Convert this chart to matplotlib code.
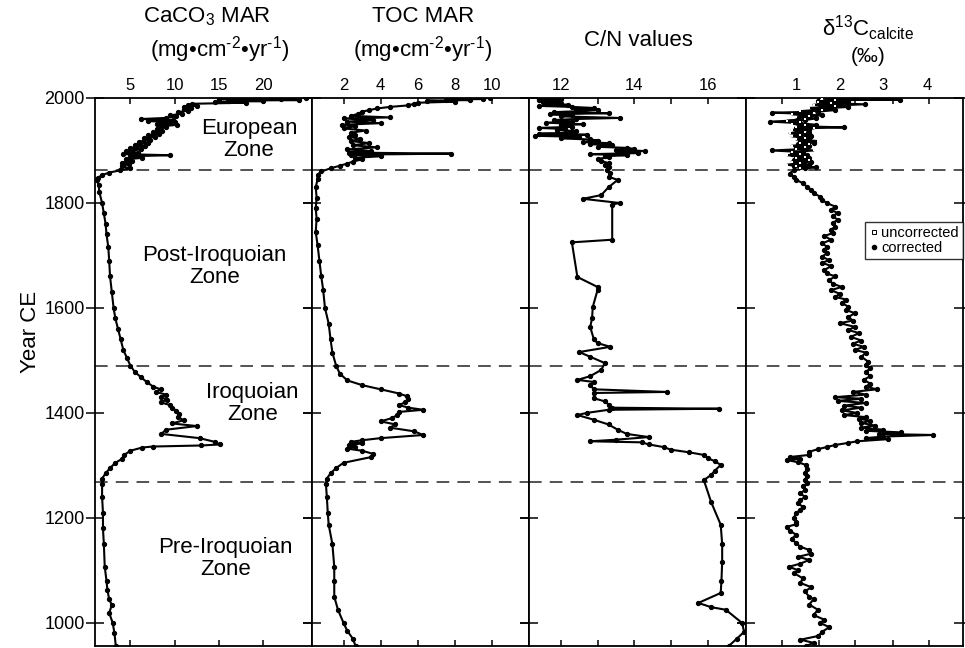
import matplotlib.pyplot as plt
from matplotlib.lines import Line2D

plt.rcParams['font.family'] = ['Liberation Sans', 'DejaVu Sans']
plt.rcParams['mathtext.fontset'] = 'custom'
plt.rcParams['mathtext.rm'] = 'Liberation Sans'
plt.rcParams['mathtext.it'] = 'Liberation Sans:italic'

# CaCO3 mass accumulation rate (mg cm-2 yr-1)
ca_year = [2000, 1999, 1998, 1997, 1996, 1995, 1994, 1993, 1991, 1989, 1987, 1985,
           1983, 1981, 1979, 1976, 1973, 1970, 1967, 1965, 1962, 1960, 1958, 1956,
           1954, 1951, 1949, 1946, 1944, 1941, 1938, 1935, 1932, 1929, 1926, 1923,
           1920, 1917, 1914, 1911, 1908, 1905, 1902, 1899, 1896, 1893, 1891, 1889,
           1886, 1883, 1880, 1877, 1874, 1870, 1866, 1862, 1858, 1853, 1848, 1843,
           1835, 1820, 1800, 1780, 1760, 1740, 1716, 1690, 1660, 1630, 1600, 1580,
           1560, 1540, 1520, 1505, 1490, 1478, 1468, 1458, 1450, 1445, 1440, 1435,
           1430, 1425, 1420, 1415, 1410, 1404, 1398, 1392, 1386, 1380, 1375, 1368,
           1360, 1352, 1345, 1340, 1338, 1336, 1334, 1328, 1320, 1312, 1305, 1295,
           1285, 1275, 1265, 1240, 1210, 1180, 1150, 1107, 1080, 1063, 1045, 1034,
           1019, 1000, 980, 956]
ca_val = [24.8, 15.0, 22.0, 17.0, 24.0, 16.0, 20.0, 14.5, 18.0, 12.0, 11.5, 12.5,
          11.0, 11.8, 11.0, 11.5, 10.4, 10.8, 9.5, 10.2, 9.0, 6.2, 9.8, 7.0,
          10.0, 8.0, 10.3, 8.5, 9.0, 8.0, 8.6, 7.6, 8.2, 7.0, 7.8, 6.5,
          7.2, 6.0, 7.0, 5.5, 6.6, 5.0, 6.2, 4.5, 5.8, 4.2, 9.5, 5.0,
          6.3, 4.5, 5.2, 4.0, 4.8, 4.0, 5.0, 3.8, 2.6, 1.8, 1.3, 1.2,
          1.4, 1.5, 1.8, 2.0, 2.2, 2.3, 2.5, 2.6, 2.7, 2.9, 3.1, 3.3,
          3.6, 3.9, 4.2, 4.6, 5.0, 5.5, 6.2, 6.9, 7.6, 8.4, 7.9, 9.0,
          8.5, 9.1, 8.4, 9.5, 9.7, 10.2, 10.5, 10.4, 11.0, 9.7, 12.5, 9.0,
          8.5, 12.8, 14.5, 15.1, 13.0, 7.5, 6.3, 5.0, 4.3, 4.0, 3.3, 2.7,
          2.2, 1.8, 1.8, 1.8, 1.9, 1.9, 2.0, 2.1, 2.3, 2.4, 2.6, 2.9,
          2.6, 3.0, 3.2, 3.35]

# TOC mass accumulation rate (mg cm-2 yr-1)
toc_year = [2000, 1999, 1998, 1997, 1996, 1995, 1993, 1991, 1989, 1986, 1983, 1980,
            1977, 1974, 1970, 1966, 1963, 1961, 1958, 1955, 1952, 1949, 1946, 1942,
            1938, 1934, 1930, 1926, 1922, 1918, 1914, 1910, 1906, 1902, 1899, 1896,
            1894, 1892, 1889, 1886, 1883, 1879, 1875, 1871, 1866, 1860, 1854, 1845,
            1830, 1810, 1790, 1770, 1745, 1720, 1690, 1660, 1635, 1600, 1570, 1540,
            1515, 1490, 1475, 1462, 1453, 1445, 1437, 1432, 1426, 1420, 1415, 1410,
            1406, 1402, 1396, 1390, 1384, 1378, 1372, 1365, 1358, 1352, 1348, 1345,
            1342, 1339, 1336, 1332, 1328, 1322, 1316, 1305, 1295, 1285, 1275, 1265,
            1240, 1210, 1187, 1150, 1107, 1080, 1050, 1025, 1000, 985, 970, 956]
toc_val = [9.9, 8.0, 9.5, 7.5, 8.8, 6.5, 8.0, 6.0, 5.8, 5.5, 4.5, 3.8,
           3.4, 3.0, 2.8, 2.4, 4.5, 2.0, 3.6, 2.2, 4.0, 1.9, 2.6, 2.0,
           3.2, 2.4, 2.6, 2.3, 2.9, 2.4, 3.4, 2.5, 3.8, 2.2, 3.5, 2.3,
           7.8, 2.4, 4.0, 2.6, 3.0, 2.5, 2.2, 1.8, 1.3, 0.8, 0.6, 0.6,
           0.5, 0.55, 0.5, 0.55, 0.5, 0.6, 0.7, 0.8, 0.9, 1.0, 1.2, 1.3,
           1.4, 1.6, 1.8, 2.2, 3.0, 4.0, 5.0, 5.4, 5.5, 5.3, 5.0, 5.5,
           6.3, 5.0, 4.9, 4.6, 4.0, 4.8, 4.5, 5.8, 6.3, 4.0, 3.0, 2.4,
           3.0, 2.3, 2.6, 2.2, 3.0, 3.6, 3.5, 2.0, 1.6, 1.3, 1.1, 1.05,
           1.1, 1.15, 1.2, 1.4, 1.5, 1.5, 1.5, 1.7, 2.0, 2.2, 2.5, 2.65]

# C/N ratio
cn_year = [2000, 1999, 1998, 1997, 1996, 1995, 1993, 1991, 1989, 1987, 1985, 1983,
           1981, 1979, 1977, 1975, 1973, 1971, 1969, 1967, 1965, 1962, 1960, 1958,
           1955, 1953, 1950, 1948, 1945, 1943, 1941, 1939, 1937, 1934, 1932, 1930,
           1928, 1926, 1923, 1921, 1919, 1916, 1914, 1912, 1910, 1907, 1905, 1903,
           1901, 1899, 1897, 1895, 1893, 1891, 1889, 1887, 1884, 1880, 1876, 1872,
           1868, 1863, 1857, 1850, 1844, 1830, 1815, 1808, 1800, 1797, 1730, 1725,
           1659, 1640, 1634, 1602, 1580, 1564, 1540, 1533, 1526, 1516, 1507, 1495,
           1482, 1470, 1463, 1459, 1453, 1445, 1440, 1438, 1428, 1422, 1416, 1410,
           1408, 1406, 1400, 1396, 1387, 1378, 1368, 1360, 1354, 1349, 1346, 1344,
           1340, 1335, 1330, 1325, 1320, 1314, 1308, 1301, 1290, 1282, 1272, 1230,
           1187, 1150, 1116, 1080, 1057, 1038, 1030, 1025, 1000, 983, 970, 956]
cn_val = [11.5, 12.0, 11.4, 11.9, 11.4, 11.9, 11.5, 12.0, 11.6, 12.2, 11.4, 12.3,
          12.9, 12.4, 13.0, 12.5, 11.8, 13.3, 11.7, 12.3, 12.0, 13.6, 12.4, 11.8,
          12.3, 11.6, 12.6, 12.0, 12.3, 11.4, 12.1, 11.9, 12.4, 12.3, 11.4, 12.7,
          11.3, 12.5, 12.0, 12.8, 13.0, 12.6, 13.3, 12.8, 13.4, 13.0, 13.8, 14.0,
          13.5, 14.3, 13.6, 14.1, 12.8, 13.8, 13.2, 13.3, 13.0, 13.1, 13.3, 13.2,
          13.3, 13.25, 13.35, 13.3, 13.55, 13.3, 13.1, 12.6, 13.6, 13.4, 13.4, 12.3,
          12.45, 13.0, 13.0, 12.87, 12.85, 12.8, 12.9, 13.0, 13.35, 12.5, 12.8, 13.2,
          13.1, 12.8, 12.45, 12.9, 12.8, 12.9, 14.9, 12.9, 12.9, 13.2, 13.3, 13.4,
          16.3, 13.3, 12.7, 12.45, 12.9, 13.3, 13.55, 13.8, 14.4, 13.5, 12.8, 14.2,
          14.4, 14.8, 15.0, 15.5, 15.9, 16.0, 16.2, 16.36, 16.2, 16.1, 15.9, 16.1,
          16.36, 16.4, 16.4, 16.38, 16.36, 15.75, 16.1, 16.5, 16.94, 17.0, 16.8, 16.58]

# d13C of calcite, corrected (permil)
dc_year = [2000, 1999, 1998, 1997, 1996, 1994, 1992, 1990, 1988, 1985, 1983, 1980,
           1977, 1974, 1972, 1970, 1967, 1964, 1961, 1958, 1955, 1952, 1949, 1946,
           1944, 1942, 1939, 1936, 1933, 1930, 1927, 1924, 1921, 1918, 1915, 1912,
           1909, 1906, 1903, 1900, 1897, 1894, 1891, 1888, 1885, 1882, 1879, 1876,
           1873, 1870, 1868, 1866, 1863, 1856, 1850, 1844, 1838, 1831, 1825, 1819,
           1812, 1806, 1800, 1793, 1787, 1781, 1775, 1768, 1762, 1755, 1749, 1743,
           1737, 1730, 1723, 1717, 1710, 1704, 1698, 1691, 1686, 1680, 1672, 1666,
           1660, 1653, 1646, 1640, 1634, 1627, 1621, 1616, 1610, 1602, 1596, 1590,
           1583, 1576, 1571, 1564, 1558, 1552, 1545, 1538, 1532, 1526, 1520, 1515,
           1507, 1498, 1491, 1485, 1478, 1470, 1463, 1456, 1450, 1445, 1440, 1435,
           1430, 1427, 1423, 1419, 1414, 1410, 1405, 1400, 1396, 1392, 1389, 1385,
           1381, 1376, 1372, 1368, 1366, 1363, 1360, 1358, 1355, 1352, 1350, 1346,
           1343, 1339, 1335, 1331, 1326, 1320, 1316, 1313, 1310, 1306, 1301, 1293,
           1286, 1280, 1272, 1266, 1260, 1253, 1247, 1240, 1234, 1228, 1221, 1215,
           1210, 1200, 1192, 1188, 1183, 1176, 1168, 1160, 1152, 1145, 1139, 1132,
           1126, 1120, 1113, 1107, 1100, 1095, 1085, 1076, 1068, 1060, 1050, 1045,
           1035, 1025, 1015, 1006, 1000, 992, 983, 975, 968, 962, 956]
dc_val = [1.8, 2.2, 1.9, 3.38, 2.1, 1.5, 2.2, 1.8, 2.57, 1.7, 2.2, 1.6,
          1.9, 1.5, 0.45, 1.2, 1.6, 1.1, 1.45, 1.2, 0.4, 1.1, 1.45, 1.2,
          2.1, 1.0, 1.3, 1.05, 1.3, 1.1, 1.35, 1.1, 1.3, 1.1, 1.4, 1.05,
          1.3, 1.0, 1.2, 0.45, 1.15, 0.9, 1.25, 1.0, 1.3, 0.95, 1.35, 1.05,
          1.3, 0.95, 1.45, 1.2, 0.95, 0.85, 0.95, 1.0, 1.15, 1.25, 1.35, 1.4,
          1.55, 1.6, 1.7, 1.9, 1.8, 1.95, 1.85, 1.95, 1.85, 1.9, 1.8, 1.85,
          1.65, 1.8, 1.6, 1.7, 1.65, 1.7, 1.6, 1.75, 1.6, 1.8, 1.65, 1.7,
          1.9, 1.75, 1.85, 2.05, 1.8, 2.0, 1.9, 2.15, 2.05, 2.2, 2.15, 2.35,
          2.2, 2.3, 2.0, 2.35, 2.2, 2.45, 2.25, 2.5, 2.3, 2.55, 2.35, 2.6,
          2.5, 2.65, 2.6, 2.7, 2.6, 2.7, 2.55, 2.7, 2.6, 2.85, 2.3, 2.6,
          1.9, 2.5, 1.95, 2.6, 2.1, 2.5, 2.05, 2.4, 2.1, 2.6, 2.45, 2.7,
          2.5, 2.8, 2.5, 3.0, 2.6, 3.4, 2.9, 4.14, 3.0, 2.6, 3.1, 2.4,
          2.2, 1.9, 1.7, 1.5, 1.3, 1.3, 0.85, 1.1, 0.8, 1.05, 1.22, 1.25,
          1.2, 1.25, 1.2, 1.25, 1.15, 1.2, 1.1, 1.2, 1.1, 1.05, 1.15, 1.1,
          1.0, 0.95, 1.0, 1.0, 0.79, 0.85, 1.0, 0.9, 1.0, 1.1, 1.3, 1.35,
          1.05, 1.3, 1.1, 0.84, 1.05, 0.95, 1.15, 1.1, 1.35, 1.2, 1.3, 1.4,
          1.3, 1.5, 1.4, 1.65, 1.55, 1.76, 1.6, 1.5, 1.1, 1.4, 1.23]

# d13C of calcite, uncorrected (permil)
unc_year = [1999, 1996, 1993, 1990, 1987, 1984, 1981, 1978, 1975, 1972, 1969, 1966,
            1963, 1960, 1957, 1954, 1951, 1948, 1945, 1942, 1939, 1936, 1933, 1930,
            1927, 1924, 1921, 1918, 1915, 1912, 1909, 1906, 1903, 1900, 1897, 1894,
            1891, 1888, 1885, 1882, 1879, 1876, 1873, 1870, 1867]
unc_val = [1.6, 1.9, 1.5, 1.8, 1.4, 1.9, 1.3, 1.6, 1.1, 1.4, 0.9, 1.3,
           1.0, 1.2, 0.8, 1.1, 0.9, 1.2, 1.0, 1.4, 0.9, 1.2, 0.85, 1.1,
           0.9, 1.2, 1.0, 1.5, 1.1, 1.3, 0.9, 1.2, 1.0, 1.4, 0.9, 1.1,
           0.8, 1.2, 1.0, 1.3, 0.9, 1.1, 0.8, 1.0, 1.1]

zone_bounds = [1863, 1490, 1268]
year_ticks = [1000, 1200, 1400, 1600, 1800, 2000]

W, H = 965, 648
fig = plt.figure(figsize=(W / 100, H / 100), dpi=100)
fig.subplots_adjust(left=95 / W, right=963 / W, top=1 - 98 / H, bottom=1 - 646 / H,
                    wspace=0)
axes = fig.subplots(1, 4, sharey=True)


def draw_series(ax, yrs, vals):
    ax.plot(vals, yrs, color='black', lw=1.5, marker='o', ms=2.8, zorder=3)


draw_series(axes[0], ca_year, ca_val)
draw_series(axes[1], toc_year, toc_val)
draw_series(axes[2], cn_year, cn_val)
draw_series(axes[3], dc_year, dc_val)
axes[3].plot(unc_val, unc_year, color='black', lw=1.5, marker='s', ms=1.8,
             mfc='white', mec='white', mew=0, zorder=4)

xlims = [(1.0, 25.5), (0.3, 12.0), (11.13, 17.05), (-0.15, 4.83)]
xticks = [[5, 10, 15, 20], [2, 4, 6, 8, 10], [12, 13, 14, 15, 16], [1, 2, 3, 4]]
xlabels = [['5', '10', '15', '20'], ['2', '4', '6', '8', '10'],
           ['12', '', '14', '', '16'], ['1', '2', '3', '4']]

for i, ax in enumerate(axes):
    ax.set_xlim(*xlims[i])
    ax.set_ylim(956, 2000)
    ax.set_xticks(xticks[i])
    ax.set_xticklabels(xlabels[i])
    ax.set_yticks(year_ticks)
    for s in ax.spines.values():
        s.set_linewidth(1.3)
    ax.tick_params(axis='x', which='both', direction='in', length=4, width=1.1,
                   top=True, bottom=True, labeltop=True, labelbottom=False,
                   labelsize=12, pad=3.5)
    ax.tick_params(axis='y', direction='inout', length=13, width=1.1,
                   left=True, right=True, labelsize=13, pad=1)
    for yb in zone_bounds:
        ax.axhline(yb, color='#444444', lw=1.3, ls=(0, (7, 4.5)), zorder=1)

# last panel: labels and tick marks sit at different spacing
axes[3].tick_params(axis='x', which='major', length=0)
axes[3].set_xticks([0.68, 1.53, 2.36, 3.22, 4.05], minor=True)
axes[3].tick_params(axis='x', which='minor', direction='in', length=4, width=1.1)

for ax in axes[1:]:
    ax.tick_params(axis='y', labelleft=False)

# zone names
zone_text = [('European\nZone', 0.71, 1921), ('Post-Iroquoian\nZone', 0.55, 1679),
             ('Iroquoian\nZone', 0.725, 1418), ('Pre-Iroquoian\nZone', 0.60, 1123)]
for txt, fx, yr in zone_text:
    axes[0].text(fx, yr, txt, transform=axes[0].get_yaxis_transform(),
                 ha='center', va='center', fontsize=16, linespacing=1.1,
                 multialignment='center', zorder=5)

# legend for the d13C panel
handles = [Line2D([], [], ls='none', marker='s', ms=3, mfc='white', mec='black', mew=0.7),
           Line2D([], [], ls='none', marker='o', ms=3, color='black')]
leg = axes[3].legend(handles, ['uncorrected', 'corrected'], loc='upper right',
                     bbox_to_anchor=(1.0, 0.774), borderaxespad=0, fontsize=10.5,
                     frameon=True, fancybox=False, edgecolor='black',
                     handlelength=0.6, handletextpad=0.2, labelspacing=0.05,
                     borderpad=0.3)
leg.get_frame().set_linewidth(1.0)


# column headings
def head(x, y, s, size=16):
    fig.text(x / W, 1 - y / H, s, ha='center', va='center', fontsize=size)


head(207, 17, 'CaCO$_\\mathregular{3}$ MAR')
head(220, 50, '(mg•cm$^\\mathregular{‐2}$•yr$^\\mathregular{‐1}$)')
head(423, 17, 'TOC MAR')
head(423, 50, '(mg•cm$^\\mathregular{‐2}$•yr$^\\mathregular{‐1}$)')
head(638, 40, 'C/N values')
head(868, 28, 'δ$^\\mathregular{13}$C$_\\mathregular{calcite}$')
head(868, 56, '(‰)', size=15)

fig.text(30 / W, 1 - 332 / H, 'Year CE', rotation=90, ha='center', va='center',
         fontsize=16)

fig.savefig('out.png', dpi=100)
